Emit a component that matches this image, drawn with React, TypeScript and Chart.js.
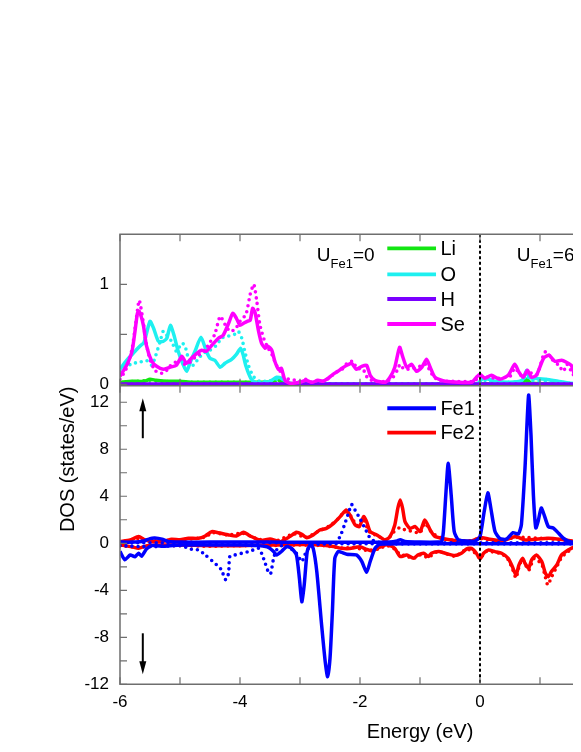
import React, { useEffect, useRef } from 'react';
import { Chart, registerables } from 'chart.js';

Chart.register(...registerables);

type P = [number, number];

// ---------- tick labels ----------
const xTickValues = [-6, -4, -2, 0];
const xMinorTicks = [-6, -5, -4, -3, -2, -1, 0, 1, 2, 3, 4];
const topTickValues = [0, 1];
const topMinorTicks = [0, 0.5, 1];
const botTickValues = [-12, -8, -4, 0, 4, 8, 12];
const botMinorTicks = [-12, -10, -8, -6, -4, -2, 0, 2, 4, 6, 8, 10, 12];

// ---------- series names ----------
const topSeriesNames = ['Li', 'O', 'H', 'Se'];
const botSeriesNames = ['Fe1', 'Fe2'];

// ---------- top panel (states/eV) : [energy, DOS] ----------
const liSolid: P[] = [[-6.0,0.02],[-5.8,0.03],[-5.6,0.03],[-5.5,0.05],[-5.4,0.04],[-5.2,0.03],[-5.0,0.03],[-4.8,0.02],[-4.5,0.02],[-4.0,0.02],[-3.6,0.02],[-3.45,0.03],[-3.38,0.05],[-3.3,0.02],[-3.1,0.005],[0.0,0.005],[0.7,0.01],[0.78,0.05],[0.85,0.01],[1.8,0.005]];
const liDot: P[] = [[-6.0,0.02],[-5.7,0.03],[-5.5,0.04],[-5.3,0.03],[-5.0,0.02],[-4.5,0.02],[-4.0,0.02],[-3.6,0.02],[-3.4,0.04],[-3.3,0.02],[-3.1,0.005],[0.7,0.005],[0.78,0.03],[0.85,0.005],[1.8,0.005]];
const oSolid: P[] = [[-6.0,0.15],[-5.89,0.24],[-5.78,0.31],[-5.67,0.38],[-5.6,0.42],[-5.5,0.63],[-5.44,0.56],[-5.36,0.43],[-5.28,0.43],[-5.22,0.46],[-5.16,0.59],[-5.1,0.49],[-5.03,0.33],[-4.95,0.2],[-4.89,0.13],[-4.83,0.22],[-4.75,0.33],[-4.65,0.47],[-4.56,0.33],[-4.5,0.26],[-4.42,0.24],[-4.33,0.17],[-4.25,0.21],[-4.14,0.25],[-4.06,0.3],[-3.99,0.36],[-3.95,0.3],[-3.9,0.18],[-3.82,0.06],[-3.75,0.02],[-3.67,0.01],[-3.5,0.03],[-3.39,0.07],[-3.31,0.06],[-3.22,0.02],[-3.1,0.005],[-0.05,0.005],[0.0,0.03],[0.05,0.06],[0.15,0.05],[0.25,0.03],[0.5,0.02],[0.7,0.04],[0.75,0.1],[0.78,0.14],[0.82,0.07],[0.9,0.06],[1.1,0.05],[1.3,0.03],[1.5,0.01],[1.8,0.005]];
const oDot: P[] = [[-6.0,0.13],[-5.89,0.18],[-5.78,0.21],[-5.67,0.22],[-5.56,0.24],[-5.47,0.19],[-5.42,0.26],[-5.33,0.43],[-5.28,0.53],[-5.22,0.49],[-5.14,0.43],[-5.06,0.33],[-4.97,0.41],[-4.92,0.39],[-4.86,0.26],[-4.78,0.19],[-4.69,0.26],[-4.61,0.31],[-4.5,0.34],[-4.39,0.39],[-4.31,0.46],[-4.22,0.48],[-4.11,0.49],[-4.03,0.53],[-3.97,0.46],[-3.92,0.33],[-3.86,0.19],[-3.78,0.08],[-3.67,0.03],[-3.44,0.04],[-3.33,0.06],[-3.22,0.03],[-3.1,0.005],[-0.05,0.005],[0.0,0.02],[0.1,0.04],[0.3,0.02],[0.7,0.03],[0.78,0.09],[0.85,0.04],[1.2,0.03],[1.5,0.01],[1.8,0.005]];
const hSolid: P[] = [[-6.0,0.003],[-3.0,0.003],[0.0,0.003],[1.8,0.003]];
const hDot: P[] = [[-6.0,0.003],[-3.0,0.003],[0.0,0.003],[1.8,0.003]];
const seSolid: P[] = [[-6.0,0.08],[-5.89,0.19],[-5.8,0.33],[-5.75,0.53],[-5.71,0.71],[-5.68,0.73],[-5.61,0.59],[-5.56,0.39],[-5.47,0.23],[-5.39,0.18],[-5.28,0.15],[-5.17,0.17],[-5.06,0.19],[-4.97,0.28],[-4.89,0.21],[-4.81,0.26],[-4.72,0.31],[-4.64,0.34],[-4.56,0.33],[-4.47,0.39],[-4.36,0.46],[-4.28,0.49],[-4.19,0.61],[-4.12,0.71],[-4.06,0.66],[-4.0,0.59],[-3.94,0.61],[-3.88,0.63],[-3.83,0.64],[-3.79,0.76],[-3.75,0.72],[-3.69,0.53],[-3.64,0.41],[-3.58,0.36],[-3.53,0.38],[-3.47,0.34],[-3.42,0.23],[-3.36,0.15],[-3.31,0.16],[-3.25,0.04],[-3.17,0.01],[-3.0,0.02],[-2.9,0.04],[-2.8,0.02],[-2.7,0.04],[-2.62,0.03],[-2.53,0.06],[-2.45,0.1],[-2.37,0.13],[-2.3,0.16],[-2.22,0.19],[-2.14,0.21],[-2.06,0.15],[-1.97,0.18],[-1.89,0.19],[-1.83,0.09],[-1.75,0.04],[-1.58,0.02],[-1.5,0.07],[-1.42,0.17],[-1.34,0.37],[-1.29,0.28],[-1.22,0.17],[-1.14,0.2],[-1.06,0.13],[-0.97,0.17],[-0.89,0.25],[-0.83,0.17],[-0.75,0.07],[-0.58,0.03],[-0.14,0.02],[-0.06,0.07],[0.0,0.1],[0.08,0.06],[0.19,0.09],[0.33,0.05],[0.47,0.09],[0.58,0.2],[0.65,0.12],[0.72,0.07],[0.79,0.14],[0.86,0.07],[0.94,0.09],[1.06,0.26],[1.15,0.29],[1.25,0.23],[1.36,0.24],[1.44,0.22],[1.52,0.19],[1.58,0.09],[1.67,0.02],[1.8,0.01]];
const seDot: P[] = [[-6.0,0.05],[-5.9,0.15],[-5.8,0.35],[-5.74,0.6],[-5.68,0.84],[-5.62,0.65],[-5.56,0.4],[-5.5,0.25],[-5.42,0.14],[-5.33,0.11],[-5.25,0.12],[-5.17,0.18],[-5.08,0.22],[-5.0,0.25],[-4.92,0.2],[-4.83,0.22],[-4.75,0.27],[-4.67,0.3],[-4.58,0.35],[-4.5,0.42],[-4.42,0.5],[-4.33,0.68],[-4.25,0.6],[-4.17,0.53],[-4.08,0.55],[-4.0,0.63],[-3.9,0.7],[-3.83,0.9],[-3.77,1.0],[-3.72,0.83],[-3.67,0.6],[-3.6,0.45],[-3.53,0.36],[-3.47,0.3],[-3.4,0.2],[-3.33,0.13],[-3.25,0.06],[-3.17,0.05],[-3.08,0.04],[-3.0,0.03],[-2.9,0.05],[-2.8,0.02],[-2.7,0.04],[-2.6,0.03],[-2.5,0.07],[-2.4,0.12],[-2.3,0.15],[-2.2,0.22],[-2.12,0.23],[-2.05,0.16],[-1.95,0.15],[-1.87,0.06],[-1.75,0.03],[-1.55,0.03],[-1.45,0.07],[-1.38,0.14],[-1.33,0.2],[-1.28,0.16],[-1.2,0.15],[-1.1,0.16],[-1.0,0.18],[-0.9,0.2],[-0.8,0.1],[-0.7,0.04],[-0.5,0.03],[-0.1,0.03],[0.0,0.08],[0.1,0.07],[0.3,0.06],[0.5,0.08],[0.58,0.16],[0.7,0.08],[0.8,0.12],[0.95,0.1],[1.05,0.28],[1.1,0.33],[1.2,0.25],[1.31,0.19],[1.39,0.13],[1.45,0.2],[1.55,0.1],[1.67,0.02],[1.8,0.01]];

// ---------- bottom panel (states/eV) : [energy, DOS] ----------
const fe1UpSolid: P[] = [[-6.0,0.1],[-5.8,0.1],[-5.6,0.2],[-5.5,0.4],[-5.42,0.45],[-5.3,0.35],[-5.2,0.15],[-5.0,0.1],[-4.5,0.1],[-4.0,0.1],[-3.5,0.1],[-3.0,0.08],[-2.5,0.08],[-2.0,0.08],[-1.5,0.1],[-1.38,0.2],[-1.33,0.3],[-1.25,0.15],[-1.0,0.1],[-0.7,0.1],[-0.64,0.15],[-0.61,1.0],[-0.57,4.1],[-0.53,6.8],[-0.48,4.1],[-0.43,1.0],[-0.36,0.3],[-0.08,0.2],[0.0,0.57],[0.07,2.7],[0.13,4.3],[0.18,3.0],[0.25,1.0],[0.33,0.4],[0.44,0.35],[0.55,0.9],[0.64,0.8],[0.69,1.6],[0.75,6.4],[0.81,12.6],[0.85,9.2],[0.89,4.1],[0.93,1.3],[0.97,1.9],[1.02,3.0],[1.07,2.4],[1.14,1.4],[1.22,1.3],[1.31,0.85],[1.39,0.43],[1.5,0.14],[1.64,0.05],[1.8,0.03]];
const fe1DnSolid: P[] = [[-6.0,-0.7],[-5.92,-1.4],[-5.83,-1.0],[-5.75,-1.15],[-5.69,-0.85],[-5.64,-1.1],[-5.56,-0.5],[-5.47,-0.2],[-5.25,-0.25],[-5.0,-0.15],[-4.5,-0.15],[-4.0,-0.15],[-3.7,-0.2],[-3.55,-0.3],[-3.5,-0.43],[-3.44,-0.7],[-3.39,-0.99],[-3.31,-0.7],[-3.22,-0.28],[-3.14,-0.43],[-3.06,-0.99],[-3.01,-2.98],[-2.97,-4.97],[-2.93,-3.55],[-2.88,-0.7],[-2.83,-0.14],[-2.78,-0.43],[-2.72,-2.41],[-2.64,-6.95],[-2.58,-10.07],[-2.54,-11.35],[-2.5,-9.8],[-2.46,-5.8],[-2.42,-1.27],[-2.36,-0.7],[-2.22,-0.93],[-2.06,-0.99],[-1.97,-1.55],[-1.89,-2.47],[-1.83,-1.55],[-1.75,-0.43],[-1.67,-0.09],[-1.0,-0.05],[0.0,-0.05],[1.0,-0.05],[1.8,-0.05]];
const fe1UpDot: P[] = [[-6.0,0.05],[-5.0,0.05],[-4.0,0.05],[-3.0,0.05],[-2.5,0.05],[-2.39,0.08],[-2.31,0.85],[-2.25,1.7],[-2.19,2.6],[-2.14,3.3],[-2.08,2.8],[-2.0,2.1],[-1.92,1.3],[-1.83,0.43],[-1.72,0.1],[-1.0,0.05],[0.0,0.05],[1.0,0.05],[1.8,0.05]];
const fe1DnDot: P[] = [[-6.0,-0.2],[-5.5,-0.3],[-5.0,-0.2],[-4.81,-0.51],[-4.69,-0.57],[-4.58,-0.99],[-4.47,-1.47],[-4.39,-1.84],[-4.31,-2.26],[-4.24,-3.1],[-4.19,-2.55],[-4.17,-1.13],[-4.08,-0.99],[-3.97,-0.85],[-3.86,-0.71],[-3.78,-0.57],[-3.69,-0.43],[-3.64,-0.85],[-3.58,-1.7],[-3.53,-2.41],[-3.49,-2.6],[-3.44,-1.27],[-3.39,-0.57],[-3.28,-0.14],[-3.17,-0.43],[-3.08,-0.7],[-2.97,-1.55],[-2.92,-0.99],[-2.86,-0.43],[-2.81,-0.14],[-2.5,-0.05],[-1.0,-0.05],[1.8,-0.05]];
const fe2UpSolid: P[] = [[-6.0,0.14],[-5.83,0.28],[-5.69,0.57],[-5.58,0.28],[-5.4,0.14],[-5.25,0.2],[-5.14,0.35],[-5.0,0.3],[-4.86,0.42],[-4.69,0.42],[-4.58,0.62],[-4.47,0.99],[-4.36,0.9],[-4.19,0.71],[-4.06,0.62],[-3.94,0.94],[-3.86,0.71],[-3.75,0.43],[-3.64,0.23],[-3.5,0.37],[-3.33,0.14],[-3.17,0.57],[-3.06,0.94],[-2.97,0.77],[-2.89,0.48],[-2.78,0.71],[-2.67,1.13],[-2.56,1.27],[-2.44,1.7],[-2.33,2.27],[-2.23,2.84],[-2.17,2.41],[-2.08,1.56],[-2.01,1.42],[-1.94,2.27],[-1.89,1.84],[-1.83,0.99],[-1.72,0.71],[-1.58,0.28],[-1.5,0.57],[-1.42,1.56],[-1.37,2.98],[-1.33,3.69],[-1.29,2.98],[-1.25,1.84],[-1.17,1.27],[-1.08,1.42],[-1.0,0.99],[-0.92,1.98],[-0.83,1.13],[-0.75,0.57],[-0.58,0.37],[-0.36,0.2],[-0.14,0.2],[0.0,0.48],[0.14,0.37],[0.36,0.2],[0.6,0.57],[0.75,0.28],[1.14,0.43],[1.42,0.28],[1.64,0.14],[1.8,0.1]];
const fe2DnSolid: P[] = [[-6.0,-0.14],[-5.8,-0.3],[-5.69,-0.43],[-5.55,-0.2],[-5.3,-0.15],[-5.0,-0.15],[-4.5,-0.2],[-4.0,-0.2],[-3.5,-0.15],[-3.0,-0.1],[-2.67,-0.14],[-2.44,-0.28],[-2.31,-0.43],[-2.17,-0.45],[-2.0,-0.3],[-1.9,-0.5],[-1.8,-0.65],[-1.7,-0.4],[-1.58,-0.14],[-1.5,-0.2],[-1.42,-0.43],[-1.33,-1.13],[-1.22,-0.99],[-1.11,-1.27],[-1.03,-0.99],[-0.94,-0.85],[-0.86,-1.13],[-0.81,-0.85],[-0.69,-0.71],[-0.58,-0.85],[-0.42,-1.05],[-0.31,-0.85],[-0.22,-0.48],[-0.14,-0.43],[-0.06,-0.85],[0.0,-1.33],[0.06,-0.85],[0.14,-0.57],[0.25,-0.71],[0.36,-0.85],[0.47,-1.28],[0.54,-1.99],[0.6,-2.7],[0.65,-1.84],[0.71,-1.28],[0.75,-1.7],[0.81,-2.13],[0.86,-1.42],[0.94,-0.99],[1.03,-1.56],[1.09,-2.55],[1.14,-2.84],[1.19,-2.41],[1.28,-1.84],[1.36,-0.99],[1.47,-0.57],[1.58,-0.28],[1.67,0.0],[1.8,0.0]];
const fe2UpDot: P[] = [[-6.0,0.1],[-5.7,0.4],[-5.5,0.2],[-5.0,0.3],[-4.6,0.5],[-4.45,0.9],[-4.2,0.7],[-3.95,0.85],[-3.7,0.35],[-3.4,0.2],[-3.1,0.8],[-2.9,0.5],[-2.7,1.0],[-2.5,1.5],[-2.36,2.1],[-2.25,2.7],[-2.15,2.3],[-2.05,1.5],[-1.95,2.1],[-1.85,1.0],[-1.7,0.6],[-1.55,0.3],[-1.45,0.9],[-1.35,1.3],[-1.29,1.2],[-1.2,1.1],[-1.0,0.9],[-0.92,1.7],[-0.8,0.9],[-0.6,0.35],[-0.2,0.2],[0.0,0.4],[0.3,0.2],[0.6,0.5],[1.1,0.4],[1.6,0.15],[1.8,0.1]];
const fe2DnDot: P[] = [[-6.0,-0.2],[-5.7,-0.35],[-5.5,-0.25],[-5.0,-0.2],[-4.5,-0.25],[-4.0,-0.2],[-3.5,-0.2],[-3.0,-0.15],[-2.6,-0.2],[-2.3,-0.4],[-2.1,-0.35],[-1.9,-0.6],[-1.7,-0.5],[-1.55,-0.2],[-1.42,-0.5],[-1.33,-0.95],[-1.22,-1.1],[-1.11,-1.3],[-1.0,-1.0],[-0.86,-1.2],[-0.7,-0.7],[-0.42,-1.1],[-0.22,-0.5],[-0.06,-0.9],[0.0,-1.3],[0.1,-0.7],[0.36,-0.9],[0.47,-1.4],[0.55,-2.3],[0.6,-2.95],[0.65,-2.0],[0.71,-1.35],[0.81,-2.3],[0.9,-1.3],[1.03,-1.8],[1.09,-2.9],[1.13,-3.55],[1.19,-2.9],[1.28,-2.0],[1.36,-1.2],[1.47,-0.7],[1.58,-0.3],[1.67,0.0],[1.8,0.0]];

// ---------- styles ----------
const FF = "'Liberation Sans', Arial, Helvetica, sans-serif";
const C_LI = '#12e612';
const C_O = '#1ef0f0';
const C_H = '#7a00ff';
const C_SE = '#ff00ff';
const C_FE1 = '#0000ff';
const C_FE2 = '#ff0000';
const FRAME = '#6e6e6e';

const topColors = [C_LI, C_O, C_H, C_SE];
const botColors = [C_FE1, C_FE2];

// annotation / legend placement (data coordinates)
const topLegendPos = { x0: -1.545, x1: -0.733, tx: -0.66, ys: [1.36, 1.10, 0.853, 0.603] };
const botLegendPos = { x0: -1.545, x1: -0.733, tx: -0.66, ys: [11.49, 9.41] };
const uLabels = [
  { main: 'U', sub: 'Fe1', tail: '=0', x: -2.72, y: 1.233 },
  { main: 'U', sub: 'Fe1', tail: '=6', x: 0.612, y: 1.233 },
];
const spinArrows = [
  { x: -5.62, from: 8.94, to: 12.34 },
  { x: -5.62, from: -7.66, to: -11.15 },
];

function ds(data: P[], color: string, axis: string, dotted: boolean) {
  return {
    data: data.map(([x, y]) => ({ x, y })),
    borderColor: color,
    backgroundColor: color,
    borderWidth: dotted ? 3.6 : 3.5,
    borderDash: dotted ? [0, 6] : [],
    borderCapStyle: dotted ? 'round' : 'butt',
    borderJoinStyle: 'round',
    pointRadius: 0,
    tension: 0.2,
    fill: false,
    yAxisID: axis,
  };
}

const decor = {
  id: 'decor',
  afterDatasetsDraw(chart: any) {
    const ctx = chart.ctx as CanvasRenderingContext2D;
    const x = chart.scales.x;
    const yT = chart.scales.yTop;
    const yB = chart.scales.yBot;
    const L = x.left, R = x.right;
    const T = yT.top, S = yT.bottom, B = yB.bottom;
    ctx.save();

    // Fermi level
    const x0 = x.getPixelForValue(0);
    ctx.strokeStyle = '#000';
    ctx.lineWidth = 2;
    ctx.setLineDash([3, 2.5]);
    ctx.beginPath();
    ctx.moveTo(x0, T);
    ctx.lineTo(x0, B);
    ctx.stroke();
    ctx.setLineDash([]);

    // frame
    ctx.strokeStyle = FRAME;
    ctx.lineWidth = 1.5;
    ctx.beginPath();
    ctx.moveTo(R, T); ctx.lineTo(L, T); ctx.lineTo(L, B); ctx.lineTo(R, B); ctx.lineTo(R, T);
    ctx.moveTo(L, S); ctx.lineTo(R, S);
    ctx.stroke();

    // ticks
    ctx.lineWidth = 1.2;
    ctx.beginPath();
    const tl = 7;
    for (const v of xMinorTicks) {
      const px = x.getPixelForValue(v);
      ctx.moveTo(px, B); ctx.lineTo(px, B - tl);
      ctx.moveTo(px, T); ctx.lineTo(px, T + tl);
      ctx.moveTo(px, S); ctx.lineTo(px, S - tl);
      ctx.moveTo(px, S); ctx.lineTo(px, S + tl);
    }
    for (const v of topMinorTicks) {
      const py = yT.getPixelForValue(v);
      ctx.moveTo(L, py); ctx.lineTo(L + tl, py);
    }
    for (const v of botMinorTicks) {
      const py = yB.getPixelForValue(v);
      ctx.moveTo(L, py); ctx.lineTo(L + tl, py);
    }
    ctx.stroke();

    // legends
    ctx.font = `20px ${FF}`;
    ctx.textAlign = 'left';
    ctx.textBaseline = 'middle';
    const drawLegend = (names: string[], colors: string[], pos: any, sc: any) => {
      names.forEach((n, i) => {
        const py = sc.getPixelForValue(pos.ys[i]);
        ctx.strokeStyle = colors[i];
        ctx.lineWidth = 3.8;
        ctx.beginPath();
        ctx.moveTo(x.getPixelForValue(pos.x0), py);
        ctx.lineTo(x.getPixelForValue(pos.x1), py);
        ctx.stroke();
        ctx.fillStyle = '#000';
        ctx.fillText(n, x.getPixelForValue(pos.tx), py + 1);
      });
    };
    drawLegend(topSeriesNames, topColors, topLegendPos, yT);
    drawLegend(botSeriesNames, botColors, botLegendPos, yB);

    // U labels
    ctx.textBaseline = 'alphabetic';
    ctx.fillStyle = '#000';
    for (const u of uLabels) {
      let px = x.getPixelForValue(u.x);
      const py = yT.getPixelForValue(u.y);
      ctx.font = `19px ${FF}`;
      ctx.fillText(u.main, px, py);
      px += ctx.measureText(u.main).width;
      ctx.font = `13px ${FF}`;
      ctx.fillText(u.sub, px, py + 7);
      px += ctx.measureText(u.sub).width;
      ctx.font = `19px ${FF}`;
      ctx.fillText(u.tail, px, py);
    }

    // spin arrows
    ctx.strokeStyle = '#000';
    ctx.fillStyle = '#000';
    ctx.lineWidth = 2;
    for (const a of spinArrows) {
      const px = x.getPixelForValue(a.x);
      const p1 = yB.getPixelForValue(a.from);
      const p2 = yB.getPixelForValue(a.to);
      const dir = p2 < p1 ? -1 : 1;
      ctx.beginPath();
      ctx.moveTo(px, p1);
      ctx.lineTo(px, p2 - dir * 10);
      ctx.stroke();
      ctx.beginPath();
      ctx.moveTo(px, p2);
      ctx.lineTo(px - 3.5, p2 - dir * 13);
      ctx.lineTo(px + 3.5, p2 - dir * 13);
      ctx.closePath();
      ctx.fill();
    }

    // y title across both panels
    ctx.save();
    ctx.translate(60, (T + B) / 2);
    ctx.rotate(-Math.PI / 2);
    ctx.font = `20px ${FF}`;
    ctx.textAlign = 'center';
    ctx.textBaseline = 'middle';
    ctx.fillStyle = '#000';
    ctx.fillText('DOS (states/eV)', 0, 0);
    ctx.restore();

    ctx.restore();
  },
};

export default function App() {
  const ref = useRef<HTMLCanvasElement>(null);
  useEffect(() => {
    const tickFont = { family: FF, size: 17 };
    const chart = new Chart(ref.current as HTMLCanvasElement, {
      type: 'line',
      data: {
        datasets: [
          ds(seSolid, C_SE, 'yTop', false),
          ds(seDot, C_SE, 'yTop', true),
          ds(hSolid, C_H, 'yTop', false),
          ds(hDot, C_H, 'yTop', true),
          ds(oSolid, C_O, 'yTop', false),
          ds(oDot, C_O, 'yTop', true),
          ds(liSolid, C_LI, 'yTop', false),
          ds(liDot, C_LI, 'yTop', true),
          ds(fe1UpSolid, C_FE1, 'yBot', false),
          ds(fe1DnSolid, C_FE1, 'yBot', false),
          ds(fe1UpDot, C_FE1, 'yBot', true),
          ds(fe1DnDot, C_FE1, 'yBot', true),
          ds(fe2UpSolid, C_FE2, 'yBot', false),
          ds(fe2DnSolid, C_FE2, 'yBot', false),
          ds(fe2UpDot, C_FE2, 'yBot', true),
          ds(fe2DnDot, C_FE2, 'yBot', true),
        ] as any,
      },
      options: {
        animation: false,
        responsive: false,
        devicePixelRatio: 1,
        layout: { padding: { top: 226.3, left: 0, right: 8, bottom: 0 } },
        plugins: { legend: { display: false }, tooltip: { enabled: false } },
        events: [],
        scales: {
          x: {
            type: 'linear',
            position: 'bottom',
            min: -6,
            max: 4,
            grid: { display: false, drawTicks: false },
            border: { display: false },
            afterBuildTicks: (s: any) => { s.ticks = xTickValues.map((v) => ({ value: v })); },
            afterFit: (s: any) => { s.height = 59.7; },
            ticks: { font: tickFont, color: '#000', padding: 8, autoSkip: false, maxRotation: 0, callback: (v: any) => String(v) },
            title: { display: true, text: 'Energy (eV)', font: { family: FF, size: 20 }, color: '#000', padding: { top: 0, bottom: 0 } },
          },
          yBot: {
            type: 'linear',
            position: 'left',
            stack: 'dos',
            stackWeight: 298.5,
            min: -12,
            max: 13.4,
            grid: { display: false, drawTicks: false },
            border: { display: false },
            afterBuildTicks: (s: any) => { s.ticks = botTickValues.map((v) => ({ value: v })); },
            afterFit: (s: any) => { s.width = 112; },
            ticks: { font: tickFont, color: '#000', padding: 11, autoSkip: false, callback: (v: any) => String(v) },
          },
          yTop: {
            type: 'linear',
            position: 'left',
            stack: 'dos',
            stackWeight: 151.5,
            min: -0.015,
            max: 1.5,
            grid: { display: false, drawTicks: false },
            border: { display: false },
            afterBuildTicks: (s: any) => { s.ticks = topTickValues.map((v) => ({ value: v })); },
            afterFit: (s: any) => { s.width = 112; },
            ticks: { font: tickFont, color: '#000', padding: 11, autoSkip: false, callback: (v: any) => String(v) },
          },
        },
      } as any,
      plugins: [decor],
    });
    return () => chart.destroy();
  }, []);

  return (
    <div style={{ width: 573, height: 736, overflow: 'hidden', position: 'relative' }}>
      <canvas ref={ref} width={720} height={736} style={{ display: 'block', width: 720, height: 736 }} />
    </div>
  );
}
